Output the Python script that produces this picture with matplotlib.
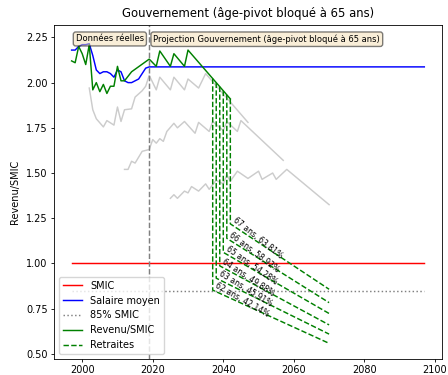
import numpy as np
import matplotlib
matplotlib.use('Agg')
import matplotlib.pyplot as plt
import matplotlib.transforms as mtransforms

# salaire moyen / SMIC
ans_salaire = [1997, 1998, 1999, 2000, 2001, 2002, 2003, 2004, 2005, 2006, 2007, 2008,
               2009, 2010, 2011, 2012, 2013, 2014, 2015, 2016, 2017, 2018, 2019, 2097]
salaire = [2.18, 2.18, 2.20, 2.21, 2.21, 2.215, 2.15, 2.07, 2.05, 2.06, 2.06, 2.05,
           2.03, 2.07, 2.06, 2.01, 2.00, 2.00, 2.01, 2.02, 2.05, 2.08, 2.087, 2.087]

# revenu / SMIC de la carriere suivie
ans_revenu = [1997, 1998, 1999, 2000, 2001, 2002, 2003, 2004, 2005, 2006, 2007, 2008,
              2009, 2010, 2011, 2012, 2014, 2019, 2021, 2022, 2025, 2026, 2029, 2030, 2042]
revenu = [2.12, 2.11, 2.20, 2.16, 2.10, 2.21, 1.96, 2.00, 1.95, 1.99, 1.94, 1.98,
          1.98, 2.09, 2.01, 2.01, 2.06, 2.13, 2.09, 2.175, 2.09, 2.16, 2.09, 2.18, 1.91]

# autres carrieres (en gris)
ans_gris_a = [2002, 2003, 2004, 2006, 2007, 2009, 2010, 2011, 2012, 2014, 2015, 2017,
              2018, 2019, 2021, 2022, 2025, 2026, 2029, 2030, 2033, 2035, 2047]
gris_a = [1.97, 1.85, 1.80, 1.755, 1.79, 1.765, 1.865, 1.785, 1.85, 1.855, 1.92, 1.955,
          1.98, 2.04, 1.96, 2.03, 1.96, 2.03, 1.96, 2.02, 1.97, 2.05, 1.78]
ans_gris_b = [2012, 2013, 2014, 2015, 2017, 2019, 2020, 2021, 2022, 2023, 2024, 2026,
              2027, 2029, 2032, 2033, 2036, 2037, 2040, 2041, 2044, 2045, 2057]
gris_b = [1.52, 1.52, 1.565, 1.555, 1.62, 1.63, 1.685, 1.665, 1.69, 1.675, 1.73, 1.775,
          1.75, 1.785, 1.72, 1.78, 1.73, 1.785, 1.735, 1.785, 1.73, 1.79, 1.57]
ans_gris_c = [2025, 2026, 2027, 2029, 2030, 2031, 2033, 2035, 2036, 2038, 2040, 2041,
              2042, 2044, 2047, 2050, 2051, 2054, 2055, 2058, 2070]
gris_c = [1.36, 1.38, 1.36, 1.40, 1.39, 1.425, 1.40, 1.44, 1.41, 1.46, 1.44, 1.49,
          1.455, 1.51, 1.47, 1.51, 1.465, 1.50, 1.465, 1.52, 1.325]

# retraites selon l'age de depart
ages = [62, 63, 64, 65, 66, 67]
ans_depart = [2037, 2038, 2039, 2040, 2041, 2042]
revenu_depart = [2.0225, 2.00, 1.9775, 1.955, 1.9325, 1.91]
taux = [42.14, 45.91, 49.88, 54.28, 58.92, 63.81]
an_fin = 2070
retraite_fin = [0.558, 0.609, 0.66, 0.723, 0.783, 0.857]

an_debut, an_max = 1997, 2097
an_reforme = 2019

fig = plt.figure(figsize=(4.48, 3.75), dpi=100)
ax = fig.add_axes([0.1205, 0.043, 0.866, 0.89])

ax.plot([an_debut, an_max], [1.0, 1.0], color='red', lw=1.05, label='SMIC')
ax.plot(ans_salaire, salaire, color='blue', lw=1.05, label='Salaire moyen')
ax.plot([an_debut, an_max], [0.85, 0.85], color='gray', ls=':', lw=1.05, label='85% SMIC')
for xs, ys in [(ans_gris_a, gris_a), (ans_gris_b, gris_b), (ans_gris_c, gris_c)]:
    ax.plot(xs, ys, color='#cccccc', lw=1.05)
ax.plot(ans_revenu, revenu, color='green', lw=1.05, label='Revenu/SMIC')

ax.set_xlim(1992, 2102)
ax.set_ylim(0.472, 2.318)
ax.axvline(an_reforme, color='gray', ls='--', lw=1.05)

for i in range(len(ages)):
    depart = revenu_depart[i] * taux[i] / 100
    lbl = 'Retraites' if i == 0 else None
    ax.plot([ans_depart[i], ans_depart[i], an_fin],
            [revenu_depart[i], depart, retraite_fin[i]],
            color='green', ls='--', lw=1.05, label=lbl)
    p0 = ax.transData.transform((ans_depart[i], depart))
    p1 = ax.transData.transform((an_fin, retraite_fin[i]))
    angle = np.degrees(np.arctan2(p1[1] - p0[1], p1[0] - p0[0])) - 5
    ax.text(ans_depart[i] + 0.3, depart + 0.005,
            '{} ans, {}%'.format(ages[i], '{:.2f}'.format(taux[i]).replace('.', ',')),
            fontsize=5.6, rotation=angle, rotation_mode='anchor',
            ha='left', va='bottom')

props = dict(boxstyle='round', facecolor='wheat', alpha=0.5)
trans = mtransforms.blended_transform_factory(ax.transData, ax.transAxes)
ax.text(an_reforme - 1.5, 0.972, 'Données réelles', transform=trans, fontsize=6,
        ha='right', va='top', bbox=props)
ax.text(an_reforme + 1.2, 0.972, 'Projection Gouvernement (âge-pivot bloqué à 65 ans)',
        transform=trans, fontsize=6, ha='left', va='top', bbox=props)

ax.set_xticks([2000, 2020, 2040, 2060, 2080, 2100])
ax.set_yticks([0.50, 0.75, 1.00, 1.25, 1.50, 1.75, 2.00, 2.25])
ax.tick_params(labelsize=7, length=2.5, width=0.6, pad=2)
for s in ax.spines.values():
    s.set_linewidth(0.6)
ax.set_ylabel('Revenu/SMIC', fontsize=7)
ax.set_title('Gouvernement (âge-pivot bloqué à 65 ans)', fontsize=8.4)
ax.legend(loc='lower left', fontsize=7)

plt.savefig('out.png', dpi=100)
